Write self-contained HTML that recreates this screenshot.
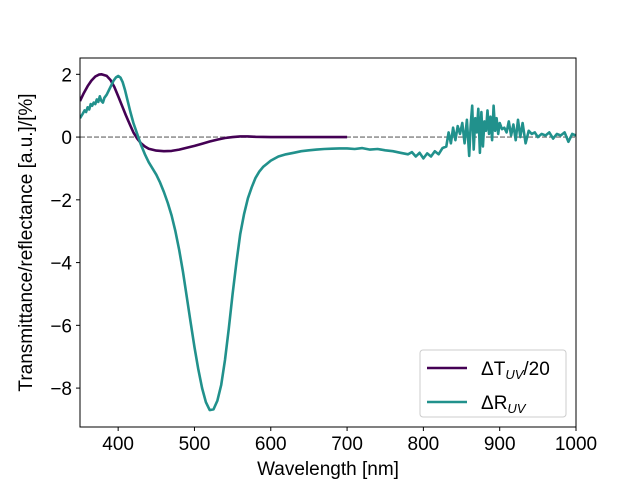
<!DOCTYPE html>
<html><head><meta charset="utf-8">
<style>
html,body{margin:0;padding:0;background:#fff;}
svg{display:block;font-family:"Liberation Sans","DejaVu Sans",sans-serif;}
</style></head>
<body>
<svg id="chart" width="640" height="480" viewBox="0 0 640 480">
<rect width="640" height="480" fill="#fff"/>
<g id="plot"></g>
</svg>
<script>
const xTicks=[400,500,600,700,800,900,1000];
const yTicks=[2,0,-2,-4,-6,-8];
const tWave=[350,355,360,365,370,375,378,385,390,395,400,405,410,415,420,425,430,435,440,450,460,470,480,490,500,510,520,530,540,550,560,570,580,600,650,700];
const tVals=[1.15,1.4,1.62,1.8,1.93,1.99,2.0,1.95,1.82,1.6,1.3,1.0,0.7,0.42,0.15,-0.05,-0.2,-0.3,-0.37,-0.43,-0.45,-0.44,-0.4,-0.34,-0.28,-0.21,-0.14,-0.08,-0.03,0.0,0.02,0.02,0.01,0.0,0.0,0.0];
const rWave=[350,353,356,358,360,362,364,366,368,370,372,374,376,378,380,382,385,388,391,394,397,400,403,406,409,412,416,420,425,430,435,440,445,450,455,460,465,470,475,480,485,490,495,500,505,510,515,520,525,530,535,540,545,550,555,560,565,570,575,580,585,590,595,600,610,620,630,640,650,660,670,680,690,700,710,720,730,740,750,760,770,780,785,790,795,800,805,810,815,820,825,830,833,836,839,842,845,848,851,854,857,860,862,864,866,868,870,872,874,876,878,880,882,884,886,888,890,892,894,896,898,900,903,906,909,912,915,918,921,924,927,930,934,938,942,946,950,955,960,965,970,975,980,985,990,995,1000];
const rVals=[0.6,0.72,0.85,0.8,0.95,0.88,1.05,1.0,1.1,1.05,1.2,1.12,1.3,1.15,1.1,1.25,1.35,1.5,1.65,1.8,1.9,1.95,1.9,1.75,1.5,1.2,0.8,0.45,0.1,-0.25,-0.55,-0.8,-1.0,-1.2,-1.45,-1.75,-2.1,-2.5,-3.0,-3.6,-4.3,-5.1,-5.9,-6.7,-7.4,-8.0,-8.45,-8.7,-8.68,-8.4,-7.9,-7.1,-6.1,-5.0,-4.0,-3.1,-2.45,-1.95,-1.6,-1.3,-1.1,-0.95,-0.85,-0.75,-0.62,-0.55,-0.5,-0.45,-0.42,-0.4,-0.38,-0.37,-0.36,-0.36,-0.38,-0.35,-0.4,-0.38,-0.42,-0.45,-0.5,-0.55,-0.48,-0.62,-0.5,-0.68,-0.52,-0.62,-0.45,-0.55,-0.35,-0.3,0.15,-0.2,0.3,-0.1,0.35,0.1,0.45,-0.2,0.55,-0.6,0.4,1.0,-0.4,0.6,0.15,0.9,-0.5,0.8,-0.3,0.5,0.2,0.85,0.1,0.65,-0.1,1.0,0.2,0.6,0.1,0.45,0.25,0.3,0.15,0.5,0.05,0.4,-0.1,0.55,0.0,0.45,-0.2,0.2,0.1,0.15,0.0,0.1,0.05,0.15,-0.05,0.1,0.05,0.15,-0.15,0.1,0.05,0.1];
const L=80,R=576,T=58,B=427,xMin=350,xMax=1000,yMin=-9.24,yMax=2.52;
const sx=v=>L+(v-xMin)/(xMax-xMin)*(R-L);
const sy=v=>T+(yMax-v)/(yMax-yMin)*(B-T);
const NS='http://www.w3.org/2000/svg';
const plot=document.getElementById('plot');
function mk(tag,attrs,parent){const e=document.createElementNS(NS,tag);for(const k in attrs)e.setAttribute(k,attrs[k]);(parent||plot).appendChild(e);return e;}
const clip=mk('clipPath',{id:'cp'});mk('rect',{x:L,y:T,width:R-L,height:B-T},clip);
const zero=mk('line',{x1:L,x2:R,y1:sy(0),y2:sy(0),stroke:'#808080','stroke-width':1.3,'stroke-dasharray':'5,2'});


function line(xs,ys,color,name){const d=xs.map((x,i)=>(i?'L':'M')+sx(x).toFixed(1)+','+sy(ys[i]).toFixed(1)).join('');
const p=mk('path',{d:d,fill:'none',stroke:color,'stroke-width':2.6,'stroke-linejoin':'round','clip-path':'url(#cp)'});

}
line(tWave,tVals,'#440154','series-delta-t');
line(rWave,rVals,'#21918c','series-delta-r');
const frame=mk('rect',{x:L,y:T,width:R-L,height:B-T,fill:'none',stroke:'#000','stroke-width':1});


xTicks.forEach(v=>{const x=sx(v);mk('line',{x1:x,x2:x,y1:B,y2:B+4,stroke:'#000'});
const t=mk('text',{x:x,y:B+23,'text-anchor':'middle','font-size':19});t.textContent=v;

});
yTicks.forEach(v=>{const y=sy(v);mk('line',{x1:L,x2:L-4,y1:y,y2:y,stroke:'#000'});
const t=mk('text',{x:L-8,y:y+7,'text-anchor':'end','font-size':19});t.textContent=(v<0?'\u2212'+(-v):v);

});
const xt=mk('text',{x:(L+R)/2,y:475,'text-anchor':'middle','font-size':19});xt.textContent='Wavelength [nm]';


const yt=mk('text',{x:32,y:(T+B)/2,'text-anchor':'middle','font-size':19,transform:'rotate(-90 32 '+((T+B)/2)+')'});yt.textContent='Transmittance/reflectance [a.u.]/[%]';


const lg=mk('g',{});


mk('rect',{x:420,y:350,width:146,height:67,rx:3,fill:'#fff',stroke:'#ccc'},lg);
mk('line',{x1:427,x2:467,y1:368,y2:368,stroke:'#440154','stroke-width':2.6},lg);
mk('line',{x1:427,x2:467,y1:402,y2:402,stroke:'#21918c','stroke-width':2.6},lg);
const l1=mk('text',{x:481,y:375,'font-size':19},lg);l1.innerHTML='ΔT<tspan font-size="13" font-style="italic" dy="4">UV</tspan><tspan dy="-4">/20</tspan>';


const l2=mk('text',{x:481,y:409,'font-size':19},lg);l2.innerHTML='ΔR<tspan font-size="13" font-style="italic" dy="4">UV</tspan>';


</script>
</body></html>
